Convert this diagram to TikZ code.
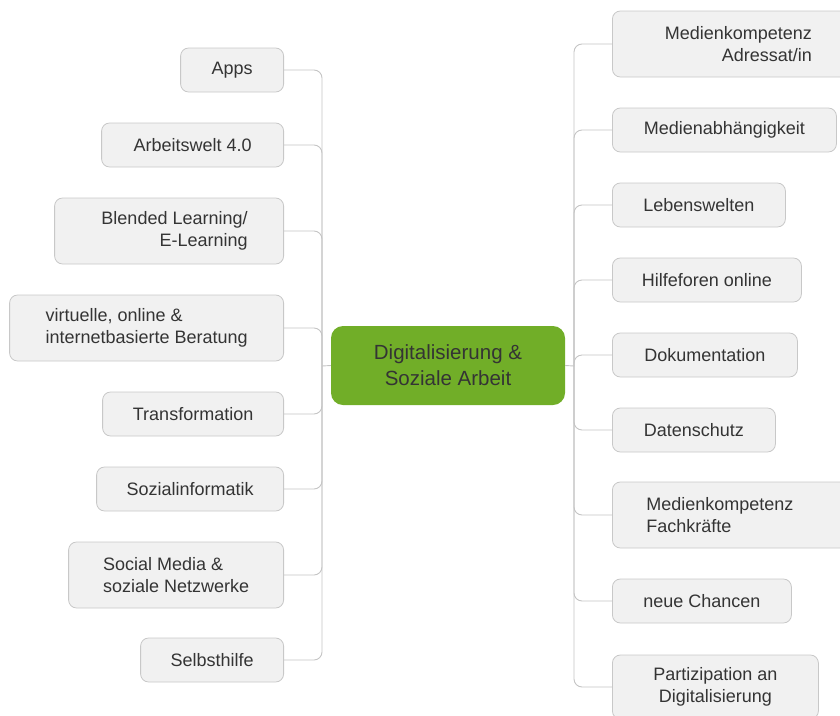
\documentclass[tikz,border=0pt]{standalone}
\usepackage{fontspec}
\setmainfont{Liberation Sans}
\definecolor{boxfill}{RGB}{241,241,241}
\definecolor{boxline}{RGB}{200,200,200}
\definecolor{connline}{RGB}{196,196,196}
\definecolor{txt}{RGB}{52,52,52}
\definecolor{leaf}{RGB}{113,174,40}
\begin{document}
\begin{tikzpicture}[x=1pt,y=-1pt,
  topic/.style={draw=boxline, fill=boxfill, line width=0.8pt, rounded corners=8pt,
    inner sep=0pt, minimum height=44pt, text=txt,
    font=\fontsize{18}{22.5}\selectfont},
  tall/.style={minimum height=66pt},
  lefttopic/.style={topic, anchor=east},
  righttopic/.style={topic, anchor=west},
  hub/.style={fill=leaf, rounded corners=12pt, inner sep=0pt, minimum width=234pt,
    minimum height=79pt, text=txt, align=center,
    font=\fontsize{20.5}{26}\selectfont},
  conn/.style={draw=connline, line width=0.9pt, rounded corners=8pt}]
\useasboundingbox (0,0) rectangle (840,715);
\clip (0,0) rectangle (840,715);

% central topic
\node[hub] (hub) at (448,365.5) {Digitalisierung \&\\Soziale Arbeit};
\coordinate (jl) at (322,366);
\coordinate (jr) at (574,366);

% left branch
\node[lefttopic, minimum width=103pt] (apps) at (284,70) {Apps};
\node[lefttopic, minimum width=182pt] (arbeit) at (284,145) {Arbeitswelt 4.0};
\node[lefttopic, tall, minimum width=229pt, text width=157pt, align=flush right] (blended) at (284,231) {Blended Learning/\\E-Learning};
\node[lefttopic, tall, minimum width=274pt, align=left] (beratung) at (284,328) {virtuelle, online \&\\internetbasierte Beratung};
\node[lefttopic, minimum width=181pt] (trans) at (284,414) {Transformation};
\node[lefttopic, minimum width=187pt] (sozinf) at (284,489) {Sozialinformatik};
\node[lefttopic, tall, minimum width=215pt, align=left] (social) at (284,575) {Social Media \&\\soziale Netzwerke};
\node[lefttopic, minimum width=143pt] (selbst) at (284,660) {Selbsthilfe};

% right branch
\node[righttopic, tall, minimum width=252pt, align=right] (mkadr) at (612,44) {Medienkompetenz\\Adressat/in};
\node[righttopic, minimum width=224pt] (abh) at (612,130) {Medienabhängigkeit};
\node[righttopic, minimum width=173pt] (leben) at (612,205) {Lebenswelten};
\node[righttopic, minimum width=189pt] (hilfe) at (612,280) {Hilfeforen online};
\node[righttopic, minimum width=185pt] (doku) at (612,355) {Dokumentation};
\node[righttopic, minimum width=163pt] (daten) at (612,430) {Datenschutz};
\node[righttopic, tall, minimum width=240pt, text width=172pt, align=flush left] (mkfach) at (612,515) {Medienkompetenz\\Fachkräfte};
\node[righttopic, minimum width=179pt] (chancen) at (612,601) {neue Chancen};
\node[righttopic, minimum height=64pt, minimum width=206pt, align=center] (partiz) at (612,687) {Partizipation an\\Digitalisierung};

% connectors
\draw[conn] (hub.west) -- (jl);
\draw[conn] (hub.east) -- (jr);
\foreach \n in {apps,arbeit,blended,beratung,trans,sozinf,social,selbst}
  \draw[conn] (jl) |- (\n.east);
\foreach \n in {mkadr,abh,leben,hilfe,doku,daten,mkfach,chancen,partiz}
  \draw[conn] (jr) |- (\n.west);
\end{tikzpicture}
\end{document}
